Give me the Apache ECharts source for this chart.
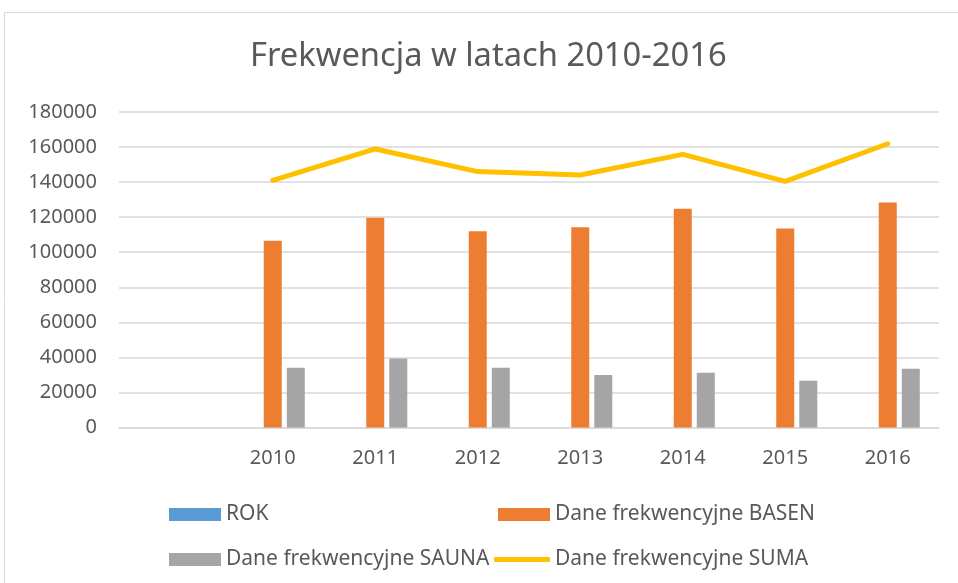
<!DOCTYPE html>
<html style="height: 100%">
<head>
	<meta charset="UTF-8">
	<title>Frekwencja w latach 2010-2016</title>
	<script src="https://cdn.jsdelivr.net/npm/echarts@6/dist/echarts.min.js"></script>
</head>
<body style="height: 100%; margin: 0; background: #fff">
	<div id="container" style="width: 958px; height: 583px;"></div>
<script type="text/javascript">
	// dane
	var lata = ['', '2010', '2011', '2012', '2013', '2014', '2015', '2016'];
	var rok = [null, null, null, null, null, null, null, null];
	var basen = [null, 106500, 119700, 111900, 114200, 124800, 113600, 128300];
	var sauna = [null, 34100, 39400, 34100, 29900, 31200, 26700, 33500];
	var suma = [null, 141000, 158900, 146000, 144100, 155800, 140400, 161900];
	var yTicks = { min: 0, max: 180000, interval: 20000 };

	var txt = '#595959';
	var font = 'Noto Sans';

	var dom = document.getElementById('container');
	var myChart = echarts.init(dom);

	function leg(name, left, top, icon, w, h) {
		return {
			data: [name],
			left: left,
			top: top,
			padding: 0,
			icon: icon,
			itemWidth: w || 52,
			itemHeight: h || 13,
			textStyle: { color: txt, fontSize: 21, fontFamily: font },
			selectedMode: false
		};
	}

	var option = {
		animation: false,
		color: ['#5B9BD5', '#ED7D31', '#A5A5A5', '#FFC000'],
		graphic: [{
			type: 'rect',
			shape: { x: 4.5, y: 12.5, width: 1200, height: 1200 },
			style: { fill: 'none', stroke: '#D9D9D9', lineWidth: 1 }
		}],
		title: {
			text: 'Frekwencja w latach 2010-2016',
			left: 250,
			top: 40,
			padding: 0,
			textStyle: { color: txt, fontSize: 32.7, fontWeight: 'normal', fontFamily: font }
		},
		legend: [
			leg('ROK', 169, 504, 'rect'),
			leg('Dane frekwencyjne BASEN', 498, 504, 'rect'),
			leg('Dane frekwencyjne SAUNA', 169, 549, 'rect'),
			leg('Dane frekwencyjne SUMA', 494, 549, 'roundRect', 56, 5)
		],
		grid: { left: 119, right: 19, top: 112, bottom: 155.5, containLabel: false },
		xAxis: {
			type: 'category',
			data: lata,
			axisTick: { show: false },
			axisLine: { lineStyle: { color: '#D9D9D9', width: 1.5 } },
			axisLabel: { color: txt, fontSize: 20, fontFamily: font, margin: 21 }
		},
		yAxis: {
			type: 'value',
			min: yTicks.min,
			max: yTicks.max,
			interval: yTicks.interval,
			axisLine: { show: false },
			axisTick: { show: false },
			axisLabel: {
				color: txt, fontSize: 20, fontFamily: font, margin: 22,
				formatter: function (v) { return String(v); }
			},
			splitLine: { lineStyle: { color: '#D9D9D9', width: 1.5 } }
		},
		series: [{
			name: 'ROK',
			type: 'bar',
			barWidth: 18,
			barGap: '28%',
			data: rok
		}, {
			name: 'Dane frekwencyjne BASEN',
			type: 'bar',
			barWidth: 18,
			barGap: '28%',
			data: basen
		}, {
			name: 'Dane frekwencyjne SAUNA',
			type: 'bar',
			barWidth: 18,
			barGap: '28%',
			data: sauna
		}, {
			name: 'Dane frekwencyjne SUMA',
			type: 'line',
			symbol: 'none',
			lineStyle: { width: 5, cap: 'round', join: 'round' },
			data: suma
		}]
	};

	myChart.setOption(option);
</script>
</body>
</html>
